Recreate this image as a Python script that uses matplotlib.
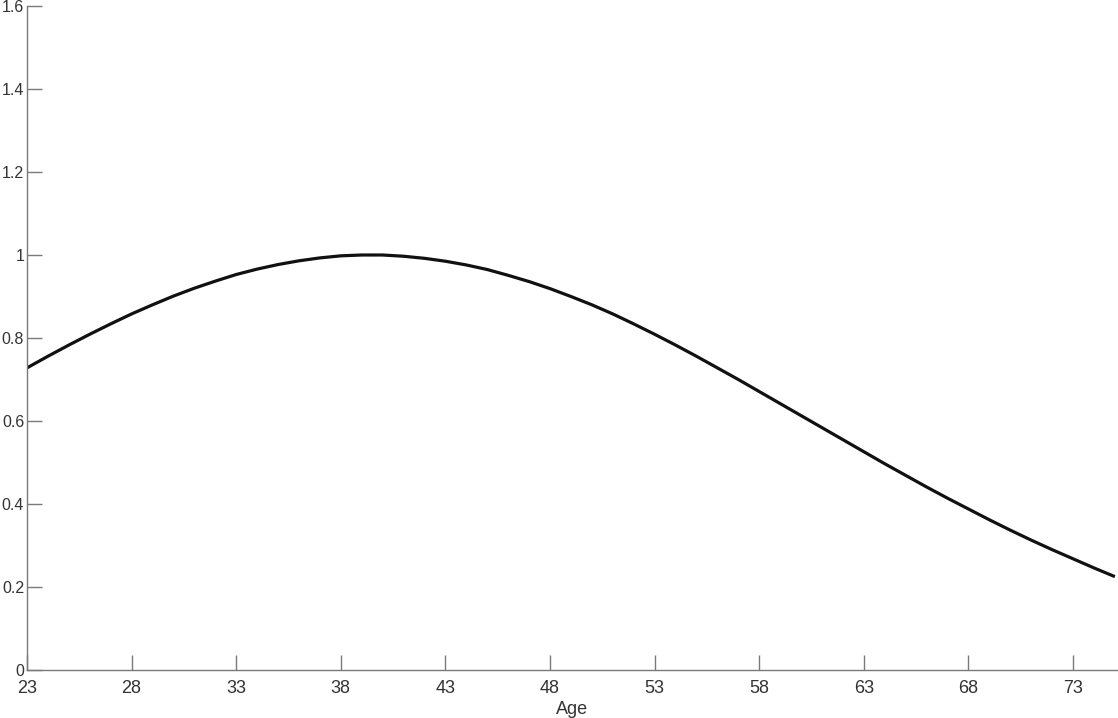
import matplotlib.pyplot as plt
import numpy as np

plt.rcParams['font.family'] = ['Liberation Sans', 'DejaVu Sans']

# values, one per year of age
ages = list(range(23, 76))
values = [
    0.728, 0.756, 0.783, 0.809, 0.834, 0.858, 0.880, 0.901, 0.920, 0.937,
    0.953, 0.966, 0.977, 0.986, 0.993, 0.998, 1.000, 1.000, 0.997, 0.992,
    0.985, 0.976, 0.965, 0.951, 0.936, 0.919, 0.900, 0.880, 0.858, 0.834,
    0.809, 0.783, 0.756, 0.728, 0.700, 0.671, 0.642, 0.613, 0.584, 0.555,
    0.526, 0.497, 0.469, 0.441, 0.414, 0.388, 0.362, 0.337, 0.313, 0.290,
    0.268, 0.246, 0.225,
]
xticks = list(range(23, 76, 5))
yticks = [0, 0.2, 0.4, 0.6, 0.8, 1, 1.2, 1.4, 1.6]
ytick_labels = ['0', '0.2', '0.4', '0.6', '0.8', '1', '1.2', '1.4', '1.6']

AX_C = '#7a7a7a'
TXT_C = '#333333'

fig = plt.figure(figsize=(11.18, 7.18), dpi=100)
ax = fig.add_axes([27 / 1118, 48 / 718, 1 - 27 / 1118, 664 / 718])

ax.plot(ages, values, color='#111111', lw=2.3, solid_capstyle='butt')

ax.set_xlim(23, 75.15)
ax.set_ylim(0, 1.6)
ax.set_xticks(xticks)
ax.set_yticks(yticks)
ax.set_yticklabels(ytick_labels)
ax.set_xlabel('Age', fontsize=13, color=TXT_C, labelpad=3)

for s in ['top', 'right']:
    ax.spines[s].set_visible(False)
for s in ['left', 'bottom']:
    ax.spines[s].set_color(AX_C)
    ax.spines[s].set_linewidth(1.0)
ax.tick_params(direction='in', length=11, width=1.0, color=AX_C,
               labelcolor=TXT_C, labelsize=13)
ax.tick_params(axis='x', pad=7)
ax.tick_params(axis='y', pad=2, labelsize=11.5)
for lab in ax.get_yticklabels():
    lab.set_verticalalignment('center_baseline')

fig.savefig('out.png', dpi=100, facecolor='white')
